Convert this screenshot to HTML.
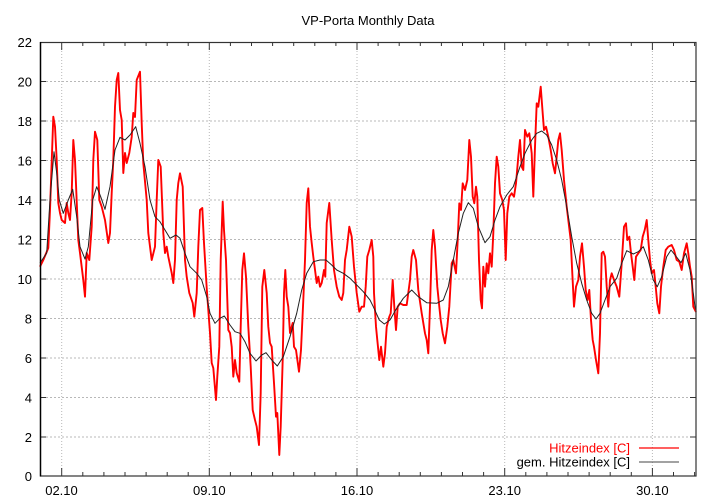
<!DOCTYPE html>
<html><head><meta charset="utf-8"><style>
html,body{margin:0;padding:0;background:#fff;}
svg{display:block;font-family:"Liberation Sans",Arial,sans-serif;}
</style></head><body>
<svg width="720" height="504" viewBox="0 0 720 504" xmlns="http://www.w3.org/2000/svg">
<rect width="720" height="504" fill="#fff"/>
<text x="368" y="25" font-size="13" text-anchor="middle" fill="#000">VP-Porta Monthly Data</text>
<g stroke="#b8b8b8" stroke-width="1" stroke-dasharray="2,2" fill="none">
<line x1="46" y1="81.5" x2="690" y2="81.5"/>
<line x1="46" y1="121" x2="690" y2="121"/>
<line x1="46" y1="160.5" x2="690" y2="160.5"/>
<line x1="46" y1="200" x2="690" y2="200"/>
<line x1="46" y1="239.5" x2="690" y2="239.5"/>
<line x1="46" y1="279" x2="690" y2="279"/>
<line x1="46" y1="318.5" x2="690" y2="318.5"/>
<line x1="46" y1="358" x2="690" y2="358"/>
<line x1="46" y1="397.5" x2="690" y2="397.5"/>
<line x1="46" y1="437" x2="690" y2="437"/>
</g>
<g stroke="#b8b8b8" stroke-width="1" stroke-dasharray="1,2" fill="none">
<line x1="61.7" y1="48" x2="61.7" y2="470"/>
<line x1="209.3" y1="48" x2="209.3" y2="470"/>
<line x1="357" y1="48" x2="357" y2="470"/>
<line x1="504.7" y1="48" x2="504.7" y2="470"/>
<line x1="652.4" y1="48" x2="652.4" y2="470"/>
</g>
<g stroke="#333" stroke-width="1" fill="none">
<path d="M40 81.5h6M40 121h6M40 160.5h6M40 200h6M40 239.5h6M40 279h6M40 318.5h6M40 358h6M40 397.5h6M40 437h6"/>
<path d="M696 81.5h-6M696 121h-6M696 160.5h-6M696 200h-6M696 239.5h-6M696 279h-6M696 318.5h-6M696 358h-6M696 397.5h-6M696 437h-6"/>
<path d="M61.7 476v-8M209.3 476v-8M357 476v-8M504.7 476v-8M652.4 476v-8M61.7 42v8M209.3 42v8M357 42v8M504.7 42v8M652.4 42v8"/>
<path d="M82.8 476v-4M103.9 476v-4M125 476v-4M146.1 476v-4M167.2 476v-4M188.2 476v-4M230.4 476v-4M251.5 476v-4M272.6 476v-4M293.7 476v-4M314.8 476v-4M335.9 476v-4M378.1 476v-4M399.2 476v-4M420.3 476v-4M441.4 476v-4M462.5 476v-4M483.6 476v-4M525.8 476v-4M546.9 476v-4M568 476v-4M589.1 476v-4M610.2 476v-4M631.3 476v-4M673.5 476v-4M694.6 476v-4"/>
<path d="M82.8 42v4M103.9 42v4M125 42v4M146.1 42v4M167.2 42v4M188.2 42v4M230.4 42v4M251.5 42v4M272.6 42v4M293.7 42v4M314.8 42v4M335.9 42v4M378.1 42v4M399.2 42v4M420.3 42v4M441.4 42v4M462.5 42v4M483.6 42v4M525.8 42v4M546.9 42v4M568 42v4M589.1 42v4M610.2 42v4M631.3 42v4M673.5 42v4M694.6 42v4"/>
</g>
<g font-size="13" text-anchor="end" fill="#000">
<text x="32" y="47">22</text>
<text x="32" y="86.5">20</text>
<text x="32" y="126">18</text>
<text x="32" y="165.5">16</text>
<text x="32" y="205">14</text>
<text x="32" y="244.5">12</text>
<text x="32" y="284">10</text>
<text x="32" y="323.5">8</text>
<text x="32" y="363">6</text>
<text x="32" y="402.5">4</text>
<text x="32" y="442">2</text>
<text x="32" y="481">0</text>
</g>
<g font-size="13" text-anchor="middle" fill="#000">
<text x="61.5" y="495">02.10</text>
<text x="209.3" y="495">09.10</text>
<text x="357" y="495">16.10</text>
<text x="504.7" y="495">23.10</text>
<text x="652.4" y="495">30.10</text>
</g>
<polyline fill="none" stroke="#ff0000" stroke-width="1.9" stroke-linejoin="round" points="40,266.7 43.3,260 48.3,248 50,210 53.3,116.7 55,126.7 56.7,160 58.3,203 60,213 61.7,220 65,223 66.7,203 68.3,213 70,220 71.7,193 73.3,140 75,160 78.3,240 80,253 83.3,280 85,296.7 86.7,253 89.3,260 91.7,226.7 93.3,160 95,131.7 97.3,140 99.3,200 101.7,206.7 105,220 108.3,243 110,233 111.7,193 113.3,160 115,106.7 116.7,80 118.3,73 120,110 121.7,120 123.3,173 125,153 126.7,163 129.3,153 131.7,137 133.3,113 135,117 136.7,80 140,71.7 141.7,123 143.3,163 146.7,200 148.3,233 151.7,260 155,246.7 156.7,200 158.3,160 160.7,166.7 163.3,233 165,253 166.7,246.7 168.3,256.7 171.7,273 173.3,283 175,260 176.7,200 178.3,183 180,173.3 182.7,186.7 185,260 186.7,276.7 189.3,293 192.7,303 194.3,316.7 196.7,293 198.3,246.7 200,210 202.3,208 204,243 206.7,288 210,333 211.7,363 213.3,368 216,400 217.3,376.7 219.3,346.7 220.7,260 222.7,201.7 224,230 226,260 228.3,330 230,333 231.7,346.7 233.3,376.7 235,360 236.7,373 239.3,381.7 240.7,326.7 242.3,270 244,253.3 246,276.7 248.3,326.7 250.7,366.7 252.7,410 255,420 256.7,426.7 259,445 260.7,393 262.3,286.7 264.3,270 266.7,293 268.3,326.7 270,343 271.7,346.7 274,383 276,416.7 277.3,413 279.3,455 280.7,426.7 282.7,360 284,293 285.3,270 286.7,296.7 288.3,306.7 290,333 292.7,323 294,346.7 296,350 299,371.7 301,350 303.3,300 305,260 306.7,203 308.3,188.3 310,226.7 311.7,243 313.3,256.7 316.7,283 318.3,276.7 320,286.7 321.7,283 324,270 325.3,276.7 326.7,223 329.3,203 331.7,240 334,270 336.7,286.7 339.3,296.7 341.7,300 343.3,293 345,260 346.7,250 349.3,226.7 351.7,236.7 354,266.7 356.7,293 359.3,311.7 361.7,306.7 364,306.7 365.7,286.7 367.3,256.7 369.3,250 371.7,240 373.3,256.7 374,293 376,326.7 377.3,340 379.3,360 381,346.7 383.3,366.7 385,353 386.7,326.7 389.3,316.7 390.7,313.3 392.7,280 394.3,306.7 396,330 397.7,306.7 400,303.3 403.3,305 406.7,305 410,280 411.7,256.7 413.3,250 416,260 418.3,290 421.7,313.3 425,333.3 426.7,340 428.3,353.3 430,306.7 431.7,250 433.3,230 435,246.7 437.3,286.7 439.3,306.7 440.7,320 442.7,333.3 445,343.3 447.3,326.7 449.3,306.7 451.7,263.3 453.3,260 456,273.3 457.7,240 459.3,203.3 461,210 462.7,183.3 465,190 467.3,180 469.3,140 471,156.7 472.7,196.7 474.3,203.3 476,186.7 477.3,196.7 479,260 480.7,300 482,308.3 483.3,266.7 485,286.7 486.7,263.3 488.3,273.3 490,253.3 491.7,266.7 493.3,233.3 495,183.3 496.7,156.7 498.3,166.7 500,193.3 502.3,200 504,210 505.7,260 507.3,213.3 509.3,196.7 511.7,193.3 514,196.7 516,183.3 518.3,156.7 520,140 521.7,166.7 523.3,170 525,130 527.3,136.7 529.3,133.3 531.7,153.3 533.3,196.7 535,146.7 536.7,103.3 538.3,106.7 540.7,86.7 542.7,113.3 544,130 546,126.7 548.3,136.7 550.7,150 552.7,163.3 555,173.3 556.7,156.7 558.3,140 560,133.3 561.7,150 564,180 566.7,206.7 568.3,220 570.7,240 572.3,273.3 574,306.7 576,286.7 578.3,280 580,256.7 582,243.3 584,266.7 585.7,290 587.7,300 589.3,290 591,320 592.7,340 594,346.7 596,360 598.3,373.3 600,333.3 601.7,253.3 603.3,251.7 605,256.7 606.7,286.7 608.3,306.7 610,280 611.7,273.3 614,280 616.7,286.7 619.3,296.7 621.7,263.3 624,226.7 626,223.3 627.3,240 629.3,236.7 631,253.3 632.7,266.7 634.3,280 636,256.7 638.3,253.3 640.7,250 642.7,236.7 644.7,230 646.7,220 648.3,240 650,260 651.7,273.3 654,270 655.7,286.7 657.3,303.3 659.3,313.3 661,286.7 663.3,266.7 665.7,250 668.3,246.7 671.7,245 674,250 676.7,260 679.3,261.7 681.7,270 684,253.3 686.7,243.3 688.3,253.3 690,266.7 691.7,276.7 693.3,306.7 695,310 696,312"/>
<polyline fill="none" stroke="#222" stroke-width="1" stroke-linejoin="round" points="40,263 46.7,253 50,200 54,151.7 56.7,173 59.3,200 63.3,213.3 68.3,200 72.7,189.3 76.7,216.7 80,246.7 85,259 88.3,246.7 92.7,200 96.7,186.7 100.7,196.7 105,209.3 110,186.7 115,150 120,137.3 125,140 130,135 135.7,126.7 140,143.3 145,166.7 150,200 155,216.7 160,221.7 165,230 170,238.3 176,235 180,238.3 185,253.3 190,266.7 196.7,273.3 201.7,280 206.7,296.7 210,313.3 215,323.3 220,318.3 224.3,316 230,325 235,331.7 240,333.3 245,341.7 250,353.3 256,361 261.7,355 266,352.7 271.7,360 277.3,366 283.3,356.7 290,336.7 296.7,313.3 301.7,290 306.7,273.3 313.3,261.7 320,260 326,260 331.7,265 336.7,270 343.3,273.3 350,278.3 356.7,285 363.3,291.7 370,300 373.3,306.7 379.3,320 384.3,324 390,320 396.7,308.3 403.3,298.3 411.7,290 418.3,296.7 426.7,302.7 436.7,303.3 443.3,300 448.3,286.7 453.3,260 458.3,233.3 463.3,213.3 468.3,202.7 473.3,208.3 478.3,226.7 485,242.7 490,236.7 495,220 500,206.7 506.7,195 513.3,186.7 520,166.7 525,153.3 531.7,140 536.7,133.3 541.7,131 546.7,135 551.7,145 556.7,160 561.7,180 566.7,206.7 571.7,236.7 576.7,263.3 581.7,283.3 586.7,300 591.7,313.3 596,319 600,313.3 605,300 610,286.7 616.7,278.3 621.7,263.3 626.7,250.7 633.3,254 638.3,251.7 643.3,246.7 648.3,260 653.3,280 657.3,286.7 661.7,276.7 666.7,256.7 671,250 675,255 681,262.7 685.7,253.3 690,270 693.3,293.3 695,306.7 696,310"/>
<text x="630" y="452.5" font-size="13" text-anchor="end" fill="#ff0000">Hitzeindex [C]</text>
<line x1="639" y1="448" x2="679" y2="448" stroke="#ff0000" stroke-width="1.2"/>
<text x="630" y="466.5" font-size="13" text-anchor="end" fill="#000">gem. Hitzeindex [C]</text>
<line x1="639" y1="462" x2="679" y2="462" stroke="#444" stroke-width="1"/>
<rect x="40.5" y="42.5" width="655.5" height="433.5" fill="none" stroke="#333" stroke-width="1.2"/>
<line x1="40.5" y1="42" x2="40.5" y2="476.5" stroke="#000" stroke-width="1.4"/>
</svg>
</body></html>
